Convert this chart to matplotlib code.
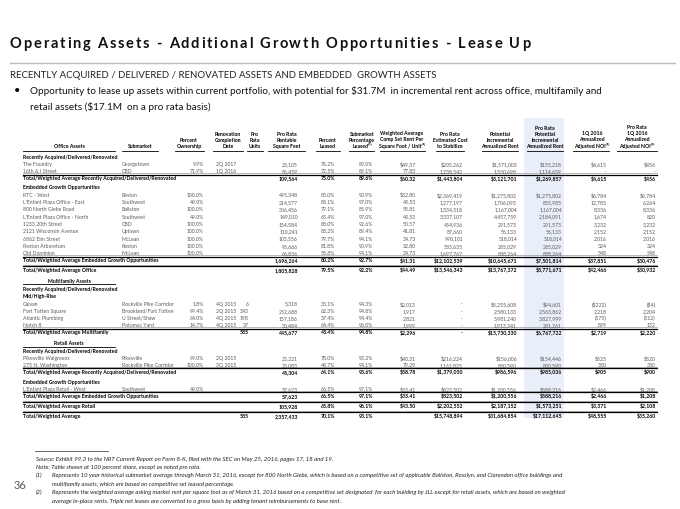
import matplotlib
matplotlib.use('Agg')
import matplotlib.pyplot as plt
from matplotlib.patches import Rectangle

plt.rcParams['font.family'] = ['Lato', 'DejaVu Sans']

##Table data
##Asset rows: name, submarket, ownership, completion date, units, square feet, leased,
##submarket leased, comp set rent, cost to stabilize, potential rent,
##pro rata potential rent, 1Q 2016 NOI, pro rata 1Q 2016 NOI
office_recent = [
    ["The Foundry", "Georgetown", "9.9%", "2Q 2017", "", "23,105", "76.2%", "89.0%", "$49.37", "$205,262", "$1,571,003", "$155,218", "$4,615", "$456"],
    ["16th & I Street", "CBD", "71.9%", "1Q 2016", "", "86,459", "72.5%", "89.1%", "77.83", "1,238,542", "1,550,698", "1,114,639", "-", "-"],
]
office_embedded = [
    ["RTC - West", "Reston", "100.0%", "", "", "495,348", "83.0%", "90.9%", "$32.80", "$2,369,419", "$1,275,802", "$1,275,802", "$6,784", "$6,784"],
    ["L'Enfant Plaza Office - East", "Southwest", "49.0%", "", "", "214,577", "88.1%", "97.0%", "43.53", "1,277,197", "1,706,093", "835,985", "12,785", "6,264"],
    ["800 North Glebe Road", "Ballston", "100.0%", "", "", "306,456", "79.1%", "85.9%", "55.81", "1,334,518", "1,167,004", "1,167,004", "8,336", "8,336"],
    ["L'Enfant Plaza Office - North", "Southwest", "49.0%", "", "", "149,010", "63.4%", "97.0%", "43.53", "3,337,107", "4,457,759", "2,184,091", "1,674", "820"],
    ["1233 20th Street", "CBD", "100.0%", "", "", "154,584", "88.0%", "92.6%", "50.57", "454,936", "291,573", "291,573", "3,232", "3,232"],
    ["2121 Wisconsin Avenue", "Uptown", "100.0%", "", "", "110,241", "88.2%", "89.4%", "41.81", "87,660", "56,133", "56,133", "2,152", "2,152"],
    ["6862 Elm Street", "McLean", "100.0%", "", "", "103,556", "79.7%", "94.1%", "34.73", "990,101", "518,014", "518,014", "2,016", "2,016"],
    ["Reston Arboretum", "Reston", "100.0%", "", "", "95,666", "81.8%", "90.9%", "32.80", "533,635", "285,029", "285,029", "324", "324"],
    ["Old Dominion", "McLean", "100.0%", "", "", "66,836", "55.8%", "94.1%", "34.73", "1,697,767", "888,264", "888,264", "548", "548"],
]
mf_recent = [
    ["Galvan", "Rockville Pike Corridor", "1.8%", "4Q 2015", "6", "5,318", "33.1%", "94.3%", "$2,013", "-", "$5,255,608", "$94,601", "($222)", "($4)"],
    ["Fort Totten Square", "Brookland/Fort Totten", "99.4%", "2Q 2015", "343", "252,688", "62.3%", "94.8%", "1,917", "-", "2,580,133", "2,563,862", "2,218", "2,204"],
    ["Atlantic Plumbing", "U Street/Shaw", "64.0%", "4Q 2015", "198", "157,186", "37.4%", "94.4%", "2,821", "-", "5,981,240", "3,827,999", "(175)", "(112)"],
    ["Notch 8", "Potomac Yard", "14.7%", "4Q 2015", "37", "30,484", "64.4%", "96.0%", "1,999", "-", "1,913,341", "281,261", "899", "132"],
]
retail_recent = [
    ["Pikesville Walgreens", "Pikesville", "99.0%", "2Q 2015", "", "25,221", "78.0%", "93.2%", "$40.31", "$216,224", "$156,006", "$154,446", "$525", "$520"],
    ["275 N. Washington", "Rockville Pike Corridor", "100.0%", "3Q 2015", "", "23,083", "48.7%", "94.1%", "79.29", "1,162,825", "830,590", "830,590", "380", "380"],
]
retail_embedded = [
    ["L'Enfant Plaza Retail - West", "Southwest", "49.0%", "", "", "57,623", "66.5%", "97.1%", "$33.41", "$823,502", "$1,200,556", "$588,216", "$2,466", "$1,208"],
]

##Totals: units, square feet, leased, submarket leased, comp set rent, cost,
##potential rent, pro rata potential rent, NOI, pro rata NOI
office_recent_total = ["", "109,564", "75.0%", "89.6%", "$60.32", "$1,443,804", "$3,121,701", "$1,269,857", "$4,615", "$456"]
office_embedded_total = ["", "1,696,264", "80.2%", "92.7%", "$41.31", "$12,102,539", "$10,645,671", "$7,501,814", "$37,851", "$30,476"]
office_total = ["", "1,805,828", "79.5%", "92.2%", "$44.49", "$13,546,343", "$13,767,372", "$8,771,671", "$42,466", "$30,932"]
mf_total = ["585", "445,677", "48.4%", "94.8%", "$2,296", "-", "$15,730,330", "$6,767,722", "$2,719", "$2,220"]
retail_recent_total = ["", "48,304", "64.1%", "93.6%", "$58.78", "$1,379,050", "$986,596", "$985,036", "$905", "$900"]
retail_embedded_total = ["", "57,623", "66.5%", "97.1%", "$33.41", "$823,502", "$1,200,556", "$588,216", "$2,466", "$1,208"]
retail_total = ["", "105,928", "65.8%", "96.1%", "$43.50", "$2,202,552", "$2,187,152", "$1,573,251", "$3,371", "$2,108"]
grand_total = ["585", "2,357,433", "70.1%", "93.1%", "", "$15,748,894", "$31,684,854", "$17,112,645", "$48,555", "$35,260"]

header_labels = ["Office Assets", "Submarket", "Percent\nOwnership", "Renovation\nCompletion\nDate",
                 "Pro\nRata\nUnits", "Pro Rata\nRentable\nSquare Feet", "Percent\nLeased",
                 "Submarket\nPercentage\nLeased\u207d\u00b9\u207e", "Weighted Average\nComp Set Rent Per\nSquare Foot / Unit\u207d\u00b2\u207e",
                 "Pro Rata\nEstimated Cost\nto Stabilize", "Potential\nIncremental\nAnnualized Rent",
                 "Pro Rata\nPotential\nIncremental\nAnnualized Rent", "1Q 2016\nAnnualized\nAdjusted NOI\u207d\u00b3\u207e",
                 "Pro Rata\n1Q 2016\nAnnualized\nAdjusted NOI\u207d\u00b3\u207e"]

title = "Operating Assets - Additional Growth Opportunities - Lease Up"
subtitle = "RECENTLY ACQUIRED / DELIVERED / RENOVATED ASSETS AND EMBEDDED  GROWTH ASSETS"
bullet_lines = ["Opportunity to lease up assets within current portfolio, with potential for $31.7M  in incremental rent across office, multifamily and",
                "retail assets ($17.1M  on a pro rata basis)"]
footnotes = [
    ("", "Source: Exhibit 99.3 to the NRT Current Report on Form 8-K, filed with the SEC on May 25, 2016, pages 17, 18 and 19."),
    ("", "Note: Table shown at 100 percent share, except as noted pro rata."),
    ("(1)", "Represents 10 year historical submarket average through March 31, 2016, except for 800 North Glebe, which is based on a competitive set of applicable Ballston, Rosslyn, and Clarendon office buildings and"),
    ("", "multifamily assets, which are based on competitive set leased percentage."),
    ("(2)", "Represents the weighted average asking market rent per square foot as of March 31, 2016 based on a competitive set designated  for each building by JLL except for retail assets, which are based on weighted"),
    ("", "average in-place rents. Triple net leases are converted to a gross basis by adding tenant reimbursements to base rent."),
]

##Layout (pixel units of the 680x510 slide)
name_x = 23
sub_x = 122
date_x = 226
own_x = 204
value_x = [249, 298, 335, 373, 416, 463, 517, 562, 607, 656]  ##units ... pro rata NOI (right edges)
head_x = [69, 140, 189, 228, 255, 287, 328, 362, 402, 450, 500, 545, 592, 637]
head_span = [(23, 115), (122, 158), (175, 204), (213, 243), (247, 263), (268, 305), (316, 340),
             (349, 374), (380, 425), (436, 464), (482, 518), (527, 563), (573, 609), (617, 657)]
fs = 3.7
gray = '#5a5a5a'

fig = plt.figure(figsize=(6.8, 5.1), dpi=100)
ax = fig.add_axes([0, 0, 1, 1])
ax.set_xlim(0, 680)
ax.set_ylim(510, 0)
ax.axis('off')
r = fig.canvas.get_renderer()


def text_width(s, **kw):
    t = ax.text(0, 0, s, **kw)
    w = t.get_window_extent(r).width
    t.remove()
    return w


def fit_text(x, y, s, width, size, **kw):
    ##shrink / grow the font so the string covers the given width
    w = text_width(s, fontsize=size, **kw)
    ax.text(x, y, s, fontsize=size * width / w, **kw)


def spaced_text(x, y, s, width, **kw):
    ##letter spaced title, drawn one character at a time
    wx = text_width("x", **kw)
    natural = text_width(s, **kw)
    extra = (width - natural) / (len(s) - 1)
    for i, ch in enumerate(s):
        if ch == " ":
            continue
        pos = text_width(s[:i] + "x", **kw) - wx if i > 0 else 0
        ax.text(x + pos + i * extra, y, ch, **kw)


def rule(y):
    ax.plot([23, 657], [y - 1.3, y - 1.3], color='#9a9a9a', lw=0.5)
    ax.plot([23, 657], [y, y], color='black', lw=0.9)


def section(y, s, center=False):
    if center:
        ax.text(69, y, s, fontsize=fs, fontweight='bold', ha='center', va='center')
        ax.plot([23, 115], [y + 4, y + 4], color='black', lw=0.6)
    else:
        ax.text(name_x, y, s, fontsize=fs, fontweight='bold', va='center')


def asset_row(y, row):
    kw = dict(fontsize=fs, color=gray, va='center')
    ax.text(name_x, y, row[0], **kw)
    ax.text(sub_x, y, row[1], **kw)
    ax.text(own_x, y, row[2], ha='right', **kw)
    ax.text(date_x, y, row[3], ha='center', **kw)
    for x, v in zip(value_x, row[4:]):
        ax.text(x, y, v, ha='right', **kw)


def total_row(y, label, vals):
    rule(y - 3.4)
    kw = dict(fontsize=fs, fontweight='bold', va='center')
    ax.text(name_x, y, label, **kw)
    for x, v in zip(value_x, vals):
        ax.text(x, y, v, ha='right', **kw)


##Header block
spaced_text(10, 44, title, 520, fontsize=10.5, fontweight='bold', va='center', color='#111111')
ax.plot([10, 675], [64, 64], color='#bdbdbd', lw=1.0)
fit_text(10, 76, subtitle, 425, 8, va='center', color='#222222')
ax.text(14, 91, "•", fontsize=8, va='center')
fit_text(30, 91, bullet_lines[0], 570, 9, va='center', color='#111111')
fit_text(30, 106.5, bullet_lines[1], 180, 9, va='center', color='#111111')

##Shaded pro rata column
ax.add_patch(Rectangle((524, 119), 40, 300, color='#e9eff8', zorder=0, lw=0))

for hx, (a, b), lab in zip(head_x, head_span, header_labels):
    ax.text(hx, 149.5, lab, fontsize=fs, fontweight='bold', ha='center', va='bottom',
            multialignment='center', linespacing=1.3)
    ax.plot([a, b], [151.5, 151.5], color='black', lw=0.6)

##Office
y = 157.5
section(y, "Recently Acquired/Delivered/Renovated")
y += 7
for row in office_recent:
    asset_row(y, row)
    y += 7.2
total_row(y, "Total/Weighted Average Recently Acquired/Delivered/Renovated", office_recent_total)
y += 8.5
section(y, "Embedded Growth Opportunities")
y += 7.8
for row in office_embedded:
    asset_row(y, row)
    y += 7.3
total_row(y, "Total/Weighted Average Embedded Growth Opportunities", office_embedded_total)
y += 9.5
total_row(y, "Total/Weighted Average Office", office_total)

##Multifamily
y += 11
section(y, "Multifamily Assets", center=True)
y += 8
section(y, "Recently Acquired/Delivered/Renovated")
y += 7.2
section(y, "Mid/High-Rise")
y += 7.5
for row in mf_recent:
    asset_row(y, row)
    y += 7.2
total_row(y, "Total/Weighted Average Multifamily", mf_total)

##Retail
y += 11
section(y, "Retail Assets", center=True)
y += 7.3
section(y, "Recently Acquired/Delivered/Renovated")
y += 7.2
for row in retail_recent:
    asset_row(y, row)
    y += 7.2
total_row(y, "Total/Weighted Average Recently Acquired/Delivered/Renovated", retail_recent_total)
y += 9.5
section(y, "Embedded Growth Opportunities")
y += 7.3
for row in retail_embedded:
    asset_row(y, row)
    y += 7.2
total_row(y, "Total/Weighted Average Embedded Growth Opportunities", retail_embedded_total)
y += 9.5
total_row(y, "Total/Weighted Average Retail", retail_total)
y += 10
total_row(y, "Total/Weighted Average", grand_total)

##Footnotes
ax.plot([35, 108], [452, 452], color='#555555', lw=0.6)
fy = 459
for mark, line in footnotes:
    if mark:
        ax.text(36, fy, mark, fontsize=4.3, style='italic', va='center', color='#222222')
    ax.text(52 if (mark or line[0].islower()) else 36, fy, line, fontsize=4.3, style='italic',
            va='center', color='#222222')
    fy += 8.4
ax.text(14, 486, "36", fontsize=8, va='center', color='#555555')

fig.savefig('out.png', dpi=100)
